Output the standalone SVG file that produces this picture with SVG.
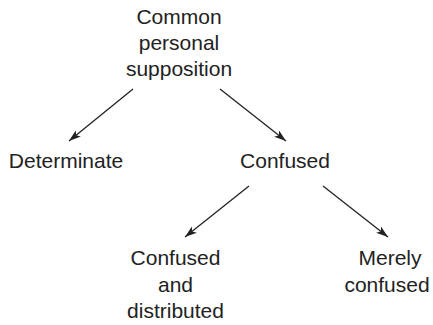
<svg xmlns="http://www.w3.org/2000/svg" width="433" height="325" viewBox="0 0 433 325">
<style>
text{font-family:"Liberation Sans",Arial,sans-serif;font-size:21px;fill:#222;text-anchor:middle}
.c{stroke:#222;stroke-width:1.3;fill:none}
</style>
<defs>
<marker id="ah" viewBox="0 0 12 8" refX="12" refY="4" markerWidth="12" markerHeight="8" markerUnits="userSpaceOnUse" orient="auto">
<path d="M0,0 L12,4 L0,8 L3,4 Z" fill="#222"/>
</marker>
</defs>
<rect width="433" height="325" fill="#fff"/>
<g id="root"><text x="179" y="24">Common</text><text x="179" y="50">personal</text><text x="179" y="76">supposition</text></g>
<g id="determinate"><text x="66" y="168">Determinate</text></g>
<g id="confused"><text x="285" y="168">Confused</text></g>
<g id="confused-distributed"><text x="175.5" y="265">Confused</text><text x="175.5" y="292">and</text><text x="175.5" y="318">distributed</text></g>
<g id="merely-confused"><text x="390" y="265">Merely</text><text x="387" y="292">confused</text></g>
<g id="connectors">
<line class="c" x1="133" y1="89" x2="69" y2="141" marker-end="url(#ah)"/>
<line class="c" x1="220" y1="89" x2="286" y2="141" marker-end="url(#ah)"/>
<line class="c" x1="249" y1="186" x2="185" y2="237" marker-end="url(#ah)"/>
<line class="c" x1="323" y1="186" x2="388" y2="237" marker-end="url(#ah)"/>
</g>
</svg>
